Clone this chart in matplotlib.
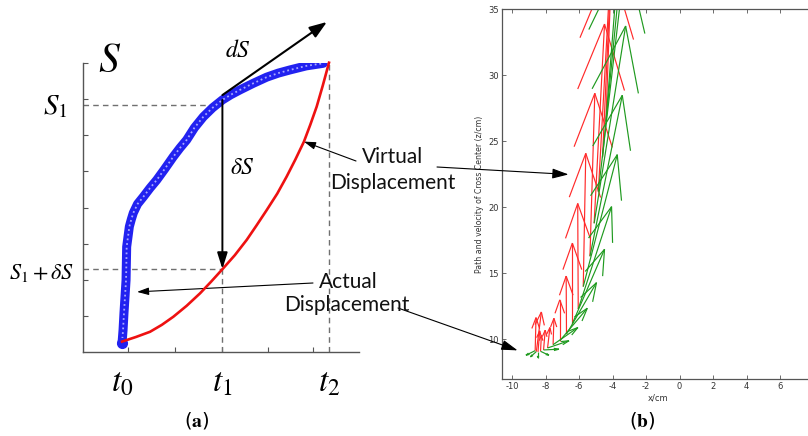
import numpy as np
import matplotlib
matplotlib.use('Agg')
import matplotlib.pyplot as plt
from matplotlib.collections import LineCollection

plt.rcParams['mathtext.fontset'] = 'stix'
plt.rcParams['axes.unicode_minus'] = False

W, H = 808, 436

# ---------------- data: panel (a) ----------------
blue_t = [0.000, 0.010, 0.019, 0.039, 0.045, 0.071, 0.090, 0.109, 0.150, 0.206,
          0.270, 0.335, 0.410, 0.496, 0.560, 0.625, 0.700, 0.786, 0.875, 0.969,
          1.050, 1.140, 1.270, 1.398, 1.510, 1.623, 1.780, 1.945]
blue_s = [0.030, 0.076, 0.135, 0.249, 0.364, 0.434, 0.459, 0.481, 0.512, 0.537,
          0.567, 0.595, 0.632, 0.676, 0.706, 0.734, 0.776, 0.814, 0.845, 0.872,
          0.890, 0.907, 0.930, 0.951, 0.965, 0.976, 0.990, 0.999]
red_t = [0.000, 0.135, 0.271, 0.385, 0.496, 0.625, 0.754, 0.860, 0.969, 1.090,
         1.205, 1.300, 1.398, 1.500, 1.591, 1.675, 1.758, 1.820, 1.881, 1.940, 2.000]
red_s = [0.036, 0.052, 0.070, 0.094, 0.122, 0.160, 0.203, 0.243, 0.286, 0.335,
         0.388, 0.438, 0.491, 0.548, 0.607, 0.666, 0.728, 0.787, 0.849, 0.922, 1.001]
t_label_pos = [0.0, 0.97, 2.0]
t_labels = [r'$t_0$', r'$t_1$', r'$t_2$']
S1 = 0.855
S1_dS = 0.287
S1_top = 0.872
dS_tip = (1.98, 1.142)
a_yticks = [0.125, 0.25, 0.375, 0.5, 0.625, 0.75, 0.875, 1.0]
a_xticks = [0.06, 0.51, 0.97, 1.41, 1.85]

# ---------------- data: panel (b) ----------------
base_x = [-8.62, -8.55, -8.45, -8.30, -8.12, -7.88, -7.55, -7.15, -6.75, -6.40,
          -6.05, -5.75, -5.35, -5.10, -4.85, -4.60, -4.40]
base_z = [9.15, 9.08, 9.05, 9.10, 9.20, 9.35, 9.60, 9.90, 10.40, 11.20,
          12.30, 14.00, 16.30, 18.80, 21.20, 23.80, 26.50]
red_u = [0.05, 0.30, 0.10, 0.05, 0.10, 0.14, 0.05, 0.00, -0.02, 0.00,
         -0.03, 0.15, 0.29, 0.62, 0.75, 0.70, 0.60]
red_v = [2.50, 3.00, 1.60, 1.20, 1.50, 1.55, 2.00, 3.10, 4.40, 6.10,
         8.00, 10.10, 12.35, 15.10, 17.30, 19.50, 21.00]
grn_u = [-0.55, -0.35, 0.00, 0.50, 0.92, 1.28, 1.48, 1.64, 1.79, 1.92,
         1.99, 2.03, 1.93, 1.88, 1.65, 1.50, 1.30]
grn_v = [-0.35, -0.40, -0.45, -0.30, 0.06, 0.55, 1.30, 2.46, 3.90, 5.63,
         7.76, 10.00, 12.20, 14.95, 18.10, 19.50, 21.00]
b_xticks = [-10, -8, -6, -4, -2, 0, 2, 4, 6]
b_yticks = [10, 15, 20, 25, 30, 35]

fig = plt.figure(figsize=(W / 100, H / 100), dpi=100)


def fpx(px, py):
    return (px, H - py)


# ================= panel (a) =================
ax = fig.add_axes([83 / W, 1 - 352 / H, 276 / W, 289 / H])
ax.set_xlim(-0.377, 2.29)
ax.set_ylim(0, 1)
for s in ['top', 'right']:
    ax.spines[s].set_visible(False)
for s in ['left', 'bottom']:
    ax.spines[s].set_color('#555555')
    ax.spines[s].set_linewidth(1.0)
ax.set_xticks(a_xticks)
ax.set_yticks(a_yticks)
ax.tick_params(direction='in', length=3.5, width=0.8, color='#555555',
               labelleft=False, labelbottom=False)

dash = (0, (4, 3))
ax.hlines([S1, S1_dS], -0.377, t_label_pos[1], colors='#707070', linestyles=dash, lw=1.0)
ax.vlines(t_label_pos[1], 0, S1_dS, colors='#707070', linestyles=dash, lw=1.0)
ax.vlines(t_label_pos[2], 0, red_s[-1], colors='#707070', linestyles=dash, lw=1.0)

ax.plot(blue_t, blue_s, color='#2222f0', lw=6.5, solid_capstyle='round',
        solid_joinstyle='round', zorder=3)
ax.plot(blue_t, blue_s, color='#a8a8ff', lw=1.3, ls=(0, (1, 1.6)), zorder=3.5)
ax.plot(blue_t[0], blue_s[0], 'o', ms=7, color='#2222f0', zorder=3.6)
ax.plot(red_t, red_s, color='#ee1111', lw=1.9, zorder=4, clip_on=False,
        solid_joinstyle='round')

ax.annotate('', xy=(t_label_pos[1], S1_dS), xytext=(t_label_pos[1], S1_top),
            arrowprops=dict(arrowstyle='-|>,head_length=0.7,head_width=0.22',
                            color='k', lw=1.4, shrinkA=0, shrinkB=0, mutation_scale=14),
            zorder=5)
ax.annotate('', xy=dS_tip, xytext=(t_label_pos[1], S1_top + 0.017),
            arrowprops=dict(arrowstyle='-|>,head_length=0.75,head_width=0.27',
                            color='k', lw=1.5, shrinkA=0, shrinkB=0, mutation_scale=14),
            annotation_clip=False, zorder=5)

# labels of panel (a)
ax.text(110, H - 60, r'$S$', transform=None, fontsize=30, ha='center', va='center')
ax.text(238, H - 50, r'$dS$', transform=None, fontsize=17, ha='center', va='center')
ax.text(55, H - 106, r'$S_1$', transform=None, fontsize=21, ha='center', va='center')
ax.text(242, H - 167, r'$\delta S$', transform=None, fontsize=17, ha='center', va='center')
ax.text(42, H - 273, r'$S_1+\delta S$', transform=None, fontsize=16, ha='center', va='center')
for tp, tl in zip(t_label_pos, t_labels):
    ax.text(tp, -0.105, tl, transform=ax.transData, fontsize=24, ha='center', va='center')

# ================= panel (b) =================
bx = fig.add_axes([502 / W, 1 - 379 / H, 311.6 / W, 369.5 / H])
bx.set_xlim(-10.6, 8)
bx.set_ylim(7, 35)
bx.spines['right'].set_visible(False)
for s in ['top', 'left', 'bottom']:
    bx.spines[s].set_color('#555555')
    bx.spines[s].set_linewidth(0.9)
bx.set_xticks(b_xticks)
bx.set_yticks(b_yticks)
bx.tick_params(direction='in', length=3, width=0.6, color='#555555', top=True,
               labelsize=6, labelcolor='#333333', pad=2.5)
bx.set_xlabel('x/cm', fontsize=6, color='#333333', labelpad=1.5)
bx.set_ylabel('Path and velocity of Cross Center (z/cm)', fontsize=5.6,
              color='#333333', labelpad=3)


def quiver_segments(x, z, u, v, alpha=0.33, beta=0.28):
    segs = []
    for xi, zi, ui, vi in zip(x, z, u, v):
        tx, tz = xi + ui, zi + vi
        segs.append([(xi, zi), (tx, tz)])
        segs.append([(tx, tz), (tx - alpha * (ui + beta * vi), tz - alpha * (vi - beta * ui))])
        segs.append([(tx, tz), (tx - alpha * (ui - beta * vi), tz - alpha * (vi + beta * ui))])
    return segs


bx.add_collection(LineCollection(quiver_segments(base_x, base_z, red_u, red_v),
                                 colors='#ff2a2a', linewidths=0.85))
bx.add_collection(LineCollection(quiver_segments(base_x, base_z, grn_u, grn_v),
                                 colors='#1f9a1f', linewidths=0.85))

# ================= cross-panel annotations =================
txt_kw = dict(fontsize=15, family=['Lato', 'DejaVu Sans'], color='#111111',
              ha='center', va='center')
fig.text(393 / W, 1 - 157 / H, 'Virtual', **txt_kw)
fig.text(393 / W, 1 - 183 / H, 'Displacement', **txt_kw)
fig.text(348 / W, 1 - 282 / H, 'Actual', **txt_kw)
fig.text(347 / W, 1 - 305 / H, 'Displacement', **txt_kw)

small = dict(arrowstyle='-|>,head_length=0.5,head_width=0.16', color='k', lw=0.8,
             shrinkA=0, shrinkB=0, mutation_scale=14)
big = dict(arrowstyle='-|>,head_length=0.45,head_width=0.14', color='k', lw=0.8,
           shrinkA=0, shrinkB=0, mutation_scale=22)
ax.annotate('', xy=(red_t[16], red_s[16]), xytext=fpx(356, 161), textcoords='figure pixels',
            arrowprops=small, annotation_clip=False)
ax.annotate('', xy=(0.145, 0.208), xytext=fpx(313, 283), textcoords='figure pixels',
            arrowprops=small, annotation_clip=False)
bx.annotate('', xy=(-6.63, 22.5), xytext=fpx(437, 167), textcoords='figure pixels',
            arrowprops=big, annotation_clip=False)
bx.annotate('', xy=(-9.67, 9.17), xytext=fpx(398, 308), textcoords='figure pixels',
            arrowprops=big, annotation_clip=False)

# panel captions
fig.text(197 / W, 1 - 420 / H, r'($\mathbf{a}$)', fontsize=14, ha='center', va='center')
fig.text(642 / W, 1 - 420 / H, r'($\mathbf{b}$)', fontsize=14, ha='center', va='center')

fig.savefig('out.png', dpi=100)
